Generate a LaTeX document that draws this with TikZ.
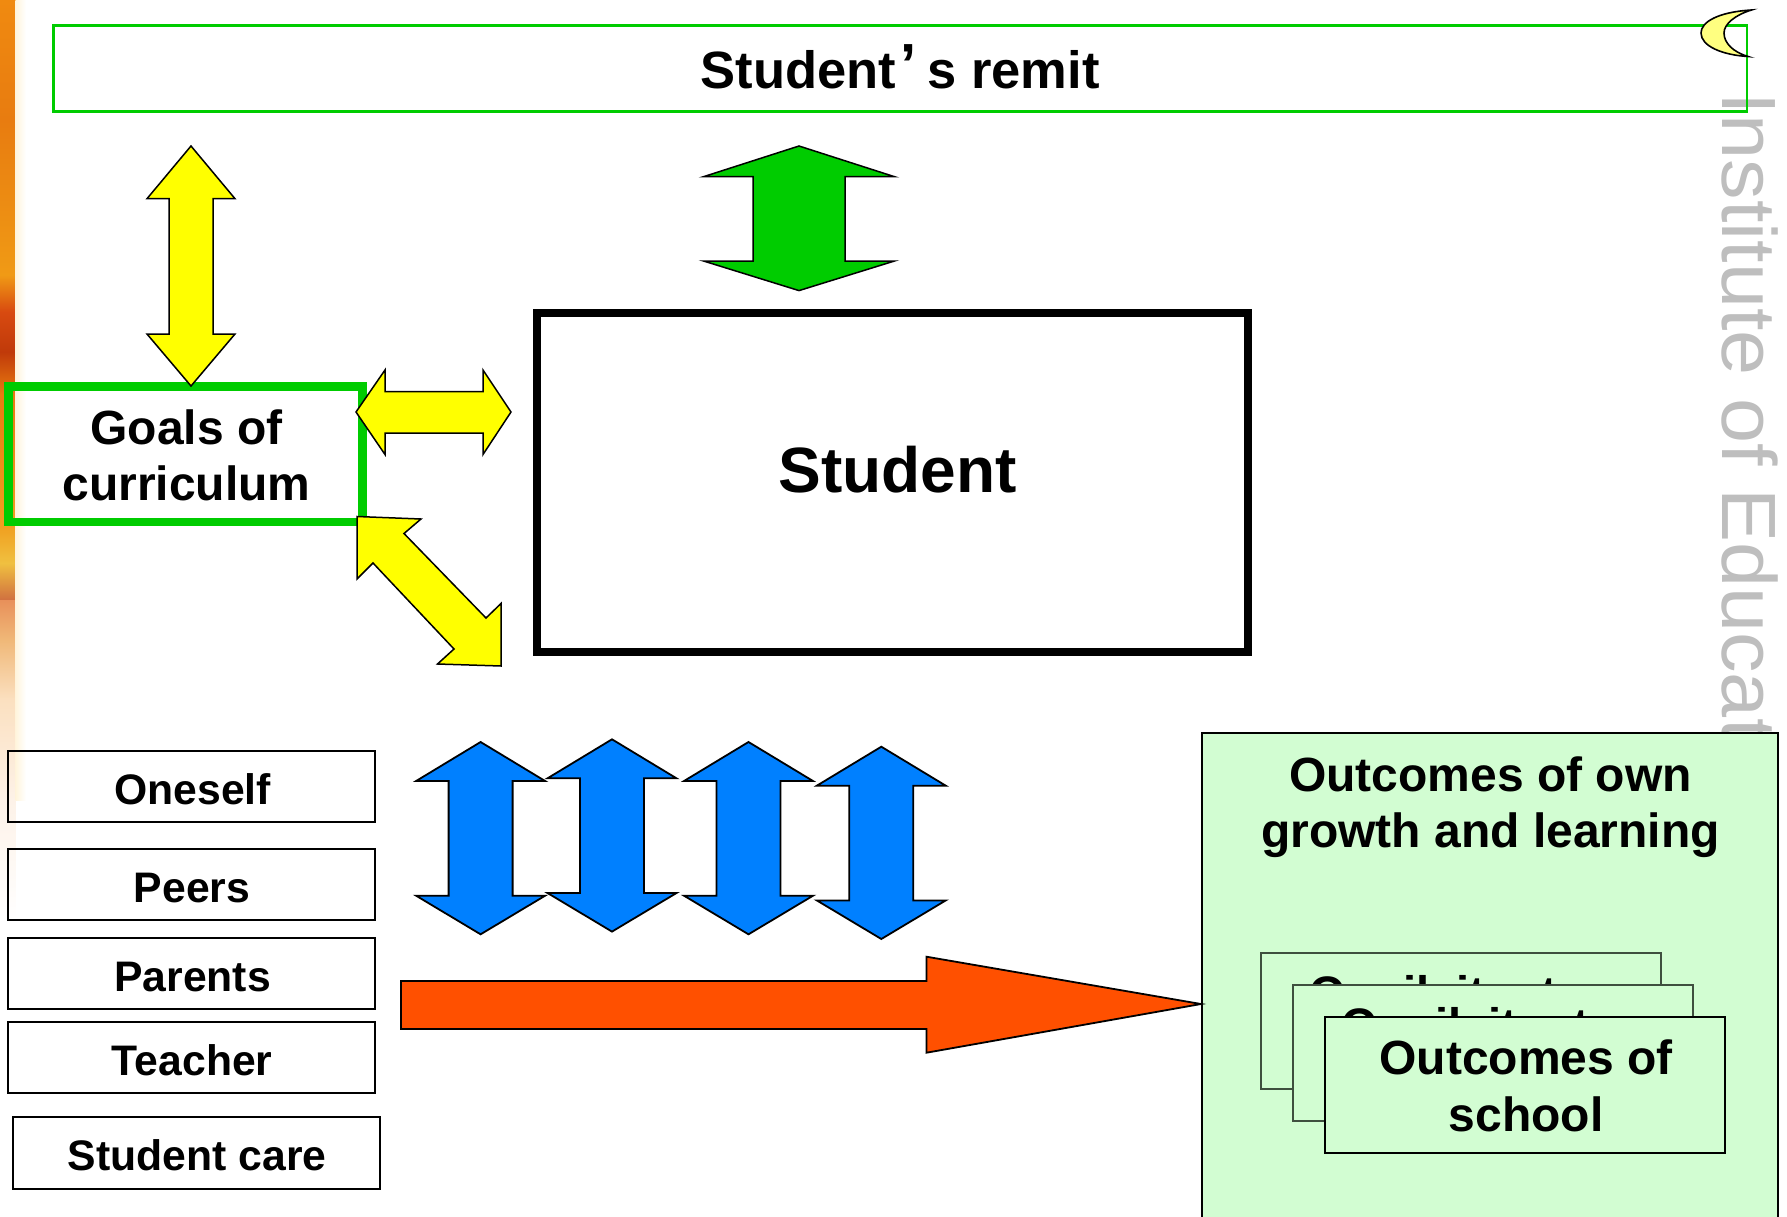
\documentclass[tikz,border=0pt]{standalone}
\usepackage{fontspec}
\usepackage{xcolor}
\setmainfont{Liberation Sans}
\definecolor{framegreen}{HTML}{00CC00}
\definecolor{arrowyellow}{HTML}{FFFF00}
\definecolor{arrowblue}{HTML}{0080FF}
\definecolor{arroworange}{HTML}{FF5000}
\definecolor{paleoutcome}{HTML}{D2FDD2}
\definecolor{moonyellow}{HTML}{FFFF80}
\definecolor{markgray}{HTML}{BEBEBE}
\definecolor{cardedge}{HTML}{3F4F3F}
\definecolor{stripa}{HTML}{F08A10}
\definecolor{stripb}{HTML}{E87C10}
\definecolor{stripc}{HTML}{F09A15}
\definecolor{stripd}{HTML}{D84A10}
\definecolor{stripe}{HTML}{C03A0A}
\definecolor{stripf}{HTML}{E87A10}
\definecolor{stripg}{HTML}{F0A020}
\definecolor{striph}{HTML}{F0C040}
\definecolor{stripi}{HTML}{D07040}
\definecolor{stripj}{HTML}{E8905A}
\definecolor{stripk}{HTML}{F0B878}
\definecolor{stripl}{HTML}{FBE0C0}
\definecolor{stripm}{HTML}{FDF2E8}
\definecolor{stripfade}{HTML}{FFF4DC}
\newcommand{\peektext}{O\hspace{58pt}il\hspace{27pt}it\hspace{56pt}t}

\begin{document}
\begin{tikzpicture}[x=1pt,y=-1pt,
            stakebox/.style={draw, line width=2pt, inner sep=0pt, minimum width=367pt, minimum height=71.5pt,
                text height=35.5pt, text depth=0pt, execute at begin node={\kern2.3pt}, font=\fontsize{42.7}{50}\selectfont\bfseries},
            cardbox/.style={draw=cardedge, fill=paleoutcome, line width=1.8pt, inner sep=0pt, minimum width=400pt, minimum height=136pt},
            boldtext/.style={align=center, inner sep=0pt, font=\fontsize{48}{56.5}\selectfont\bfseries},
            peek/.style={anchor=base west, inner sep=0pt, font=\fontsize{47}{56.7}\selectfont\bfseries},
            yellowarrow/.style={draw, line width=1.5pt, fill=arrowyellow, line join=miter},
            bluearrow/.style={draw, line width=1.8pt, fill=arrowblue, line join=miter}]
        \clip (0,0) rectangle (1787,1217);

        \foreach \ya/\yb/\ca/\cb in {0/120/stripa/stripb, 120/275/stripb/stripc, 275/312/stripc/stripd, 312/352/stripd/stripe,
                352/394/stripe/stripf, 394/527/stripf/stripg, 527/563/stripg/striph, 563/600/striph/stripi,
                600/640/stripj/stripk, 640/700/stripk/stripl, 700/800/stripl/stripm, 800/920/stripm/white}
            \shade[top color=\ca, bottom color=\cb] (0,\ya) rectangle (15.5,\yb);
        \shade[left color=stripfade, right color=white] (15.5,0) rectangle (26,800);

        \node[anchor=base west, rotate=-90, inner sep=0pt, text=markgray, font=\fontsize{81}{90}\selectfont] (watermark) at (1722,92)
            {\scalebox{1}[0.95]{Institute of Educat}};

        \node[draw=framegreen, line width=2.5pt, inner sep=0pt, minimum width=1693.5pt, minimum height=86pt,
            text height=40pt, text depth=0pt, font=\fontsize{52.5}{60}\selectfont\bfseries] (remit) at (900.25,68.5)
            {Student\kern4pt\raisebox{4pt}{\fontsize{58}{60}\selectfont ’}\kern11pt s remit};
        \draw[line width=1.6pt, fill=moonyellow] (1751.5,10) .. controls (1718,12) and (1701,22) .. (1701,33)
            .. controls (1701,46) and (1722,55) .. (1748,56.5) .. controls (1733,52) and (1724,43) .. (1724,33)
            .. controls (1724,24) and (1735,15) .. (1751.5,10) -- cycle;

        \draw[line width=1.5pt, fill=framegreen] (799,146) -- (894.5,176.7) -- (845,176.7) -- (845,261) -- (894.5,261) -- (799,290.6)
            -- (703.5,261) -- (753,261) -- (753,176.7) -- (703.5,176.7) -- cycle;

        \node[draw, line width=8.5pt, inner sep=0pt, minimum width=711pt, minimum height=339pt] (student) at (892.5,482.5) {};
        \node[anchor=base, inner sep=0pt, font=\fontsize{64}{72}\selectfont\bfseries] (studentlabel) at (897.5,492.5) {Student};

        \node[draw=framegreen, line width=8.5pt, inner sep=0pt, minimum width=354pt, minimum height=135.5pt] (goals) at (185.5,454) {};
        \node[boldtext, font=\fontsize{48}{56.5}\selectfont\bfseries] (goalslabel) at (186.5,455.2) {Goals of\\curriculum};

        \draw[yellowarrow] (191,146) -- (235,198.7) -- (213,198.7) -- (213,334) -- (235,334) -- (191,386)
            -- (147,334) -- (169,334) -- (169,198.7) -- (147,198.7) -- cycle;
        \draw[yellowarrow] (356,412) -- (385,370) -- (385,391.5) -- (483,391.5) -- (483,370) -- (511,412)
            -- (483,454.5) -- (483,433) -- (385,433) -- (385,454.5) -- cycle;
        \draw[yellowarrow] (357,516.5) -- (421,519) -- (404,533.5) -- (486,618) -- (501,603.5) -- (501,666)
            -- (437.5,664) -- (454,649) -- (373,563) -- (357,579) -- cycle;

        \node[stakebox] (oneself) at (191.5,786.6) {Oneself};
        \node[stakebox] (peers) at (191,884.4) {Peers};
        \node[stakebox] (parents) at (191.5,973.4) {Parents};
        \node[stakebox] (teacher) at (191,1057.6) {Teacher};
        \node[stakebox] (care) at (196,1153) {Student care};

        \foreach \cx/\ty in {480.6/742, 612/739.3, 748.5/742, 881.3/746.7}
            \draw[bluearrow] (\cx,\ty) -- ++(64.5,39) -- ++(-32.5,0) -- ++(0,114.7) -- ++(32.5,0) -- ++(-64.5,38.6)
                -- ++(-64.5,-38.6) -- ++(32.5,0) -- ++(0,-114.7) -- ++(-32.5,0) -- cycle;

        \node[draw, line width=2.5pt, fill=paleoutcome, inner sep=0pt, minimum width=576pt, minimum height=507pt] (outcomes) at (1490,986.6) {};
        \node[boldtext] (owntitle) at (1490.5,807) {Outcomes of own\\growth and learning};

        \draw[line width=1.8pt, fill=arroworange] (401,981) -- (926.5,981) -- (926.5,956.7) -- (1201,1004) -- (926.5,1052.7) -- (926.5,1029) -- (401,1029) -- cycle;

        \node[cardbox] (cardone) at (1461,1021) {};
        \node[peek] (peekone) at (1309,1009.6) {\peektext};
        \node[cardbox] (cardtwo) at (1493,1053) {};
        \node[peek] (peektwo) at (1341,1041.6) {\peektext};
        \node[cardbox, draw=black] (cardthree) at (1525,1084.7) {};
        \node[boldtext] (cardlabel) at (1526.2,1086) {Outcomes of\\school};
    \end{tikzpicture}
\end{document}
